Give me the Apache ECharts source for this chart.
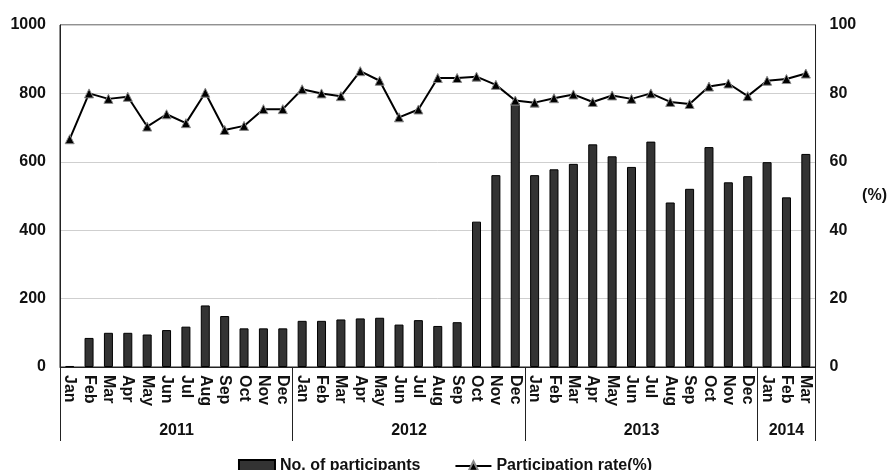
<!DOCTYPE html>
<html><head><meta charset="utf-8">
<script src="https://cdn.jsdelivr.net/npm/echarts@6/dist/echarts.min.js"></script>
<style>html,body{margin:0;padding:0;background:#fff}#c{width:890px;height:470px}</style>
</head><body><div id="c"></div>
<script>
const months = ['Jan','Feb','Mar','Apr','May','Jun','Jul','Aug','Sep','Oct','Nov','Dec',
  'Jan','Feb','Mar','Apr','May','Jun','Jul','Aug','Sep','Oct','Nov','Dec',
  'Jan','Feb','Mar','Apr','May','Jun','Jul','Aug','Sep','Oct','Nov','Dec',
  'Jan','Feb','Mar'];
const years = ['2011','2012','2013','2014'];
const yearLengths = [12, 12, 12, 3];
const participants = [3,85,100,100,95,108,118,180,149,113,113,113,
  135,135,139,142,144,124,137,120,131,425,561,772,
  561,578,594,651,616,585,659,481,521,643,540,558,
  599,496,623];
const rate = [66.6,80.0,78.4,79.0,70.3,73.9,71.3,80.2,69.3,70.5,75.4,75.4,
  81.2,80.0,79.2,86.5,83.7,73.0,75.3,84.5,84.5,84.9,82.5,77.9,
  77.3,78.6,79.7,77.5,79.4,78.4,80.0,77.5,76.9,82.0,82.9,79.2,
  83.7,84.2,85.8];
const leftTicks = {min:0, max:1000, interval:200};
const rightTicks = {min:0, max:100, interval:20};

// year category per month
const yearCats = [];
const groupStart = [], groupLabelIdx = {};
let k = 0;
years.forEach((y, i) => {
  groupStart.push(k);
  const n = yearLengths[i];
  const mid = Math.floor((n - 1) / 2);
  groupLabelIdx[k + mid] = (n % 2 === 0) ? 'even' : 'odd';
  for (let j = 0; j < n; j++) yearCats.push(y);
  k += n;
});

const font = '"Liberation Sans", Arial, sans-serif';
const chart = echarts.init(document.getElementById('c'));
chart.setOption({
  animation: false,
  textStyle: {fontFamily: font},
  grid: {left: 60, right: 63, top: 25, bottom: 103, show: true, borderColor: '#222', borderWidth: 1},
  legend: {
    top: 453, left: 'center', itemWidth: 36, itemHeight: 12, itemGap: 34,
    textStyle: {fontFamily: font, fontWeight: 'bold', fontSize: 16, color: '#111'},
    data: [{name: 'No. of participants', icon: 'rect'}, {name: 'Participation rate(%)'}]
  },
  xAxis: [{
    type: 'category', data: months, position: 'bottom',
    axisLine: {show: true, lineStyle: {color: '#222', width: 1}},
    axisTick: {show: false},
    axisLabel: {interval: 0, rotate: -90, margin: 8, fontFamily: font, fontWeight: 'bold', fontSize: 16, color: '#111'}
  }, {
    type: 'category', data: yearCats, position: 'bottom',
    axisLine: {show: false},
    axisTick: {show: true, length: 74, interval: (i) => groupStart.indexOf(i) >= 0, lineStyle: {color: '#222', width: 1}},
    axisLabel: {
      margin: 56, fontFamily: font, fontWeight: 'bold', fontSize: 16, color: '#111',
      interval: (i) => groupLabelIdx[i] !== undefined,
      formatter: (v, i) => groupLabelIdx[i] === 'even' ? '{g|}{t|' + v + '}' : '{t|' + v + '}',
      rich: {g: {width: 20}, t: {fontFamily: font, fontWeight: 'bold', fontSize: 16, color: '#111'}}
    }
  }],
  yAxis: [{
    type: 'value', min: leftTicks.min, max: leftTicks.max, interval: leftTicks.interval,
    axisLine: {show: true, lineStyle: {color: '#222'}}, axisTick: {show: false},
    splitLine: {lineStyle: {color: '#cfcfcf', width: 1}},
    axisLabel: {margin: 14, formatter: (v) => String(v), fontFamily: font, fontWeight: 'bold', fontSize: 16, color: '#111'}
  }, {
    type: 'value', min: rightTicks.min, max: rightTicks.max, interval: rightTicks.interval, position: 'right',
    name: '(%)', nameLocation: 'middle', nameRotate: 0, nameGap: 38,
    nameTextStyle: {fontFamily: font, fontWeight: 'bold', fontSize: 16, color: '#111', align: 'left'},
    axisLine: {show: true, lineStyle: {color: '#222'}}, axisTick: {show: false},
    splitLine: {show: false},
    axisLabel: {margin: 14, fontFamily: font, fontWeight: 'bold', fontSize: 16, color: '#111'}
  }],
  series: [{
    name: 'No. of participants', type: 'bar', data: participants, barWidth: 9,
    itemStyle: {color: '#333', borderColor: '#000', borderWidth: 1}
  }, {
    name: 'Participation rate(%)', type: 'line', yAxisIndex: 1, data: rate,
    symbol: 'triangle', symbolSize: 9,
    lineStyle: {color: '#000', width: 2},
    itemStyle: {color: '#000', borderColor: '#888', borderWidth: 1}
  }]
});
</script></body></html>
